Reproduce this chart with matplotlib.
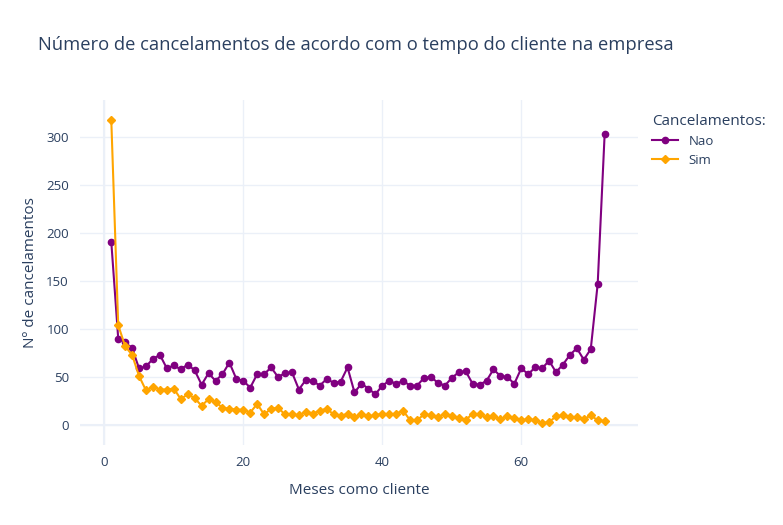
import matplotlib.pyplot as plt

meses = list(range(1, 73))
nao = [191, 90, 86, 80, 59, 61, 69, 73, 59, 62, 58, 63, 57, 42, 54, 46, 53, 65, 48, 46,
       39, 53, 53, 60, 50, 54, 55, 37, 47, 46, 41, 48, 44, 45, 60, 34, 43, 38, 32, 41,
       46, 43, 46, 41, 41, 49, 50, 44, 41, 49, 55, 56, 43, 42, 46, 58, 51, 50, 43, 59,
       53, 60, 59, 67, 55, 63, 73, 80, 68, 79, 147, 303]
sim = [318, 104, 82, 73, 51, 36, 40, 37, 37, 38, 27, 32, 28, 20, 27, 24, 18, 17, 16, 16,
       13, 22, 11, 17, 18, 11, 11, 10, 14, 12, 15, 17, 11, 9, 12, 8, 11, 9, 10, 12,
       11, 12, 15, 5, 5, 11, 10, 8, 12, 9, 7, 5, 12, 11, 8, 9, 6, 9, 7, 5,
       6, 5, 2, 3, 9, 10, 8, 8, 6, 10, 5, 4]
xticks = [0, 20, 40, 60]
yticks = [0, 50, 100, 150, 200, 250, 300]

plt.rcParams['font.family'] = ['Open Sans', 'DejaVu Sans']
txt = '#2a3f5f'
grid = '#ebf0f8'

W, H = 783, 525
fig = plt.figure(figsize=(W / 100, H / 100), dpi=100)
ax = fig.add_axes([80 / W, (H - 445) / H, 558 / W, 345 / H])

ax.plot(meses, nao, color='purple', lw=1.5, marker='o', ms=4.5, label='Nao', zorder=3)
ax.plot(meses, sim, color='orange', lw=1.5, marker='D', ms=4, label='Sim', zorder=3)

ax.set_xlim(-3.5, 76.8)
ax.set_ylim(-20.8, 338.5)
ax.set_xticks(xticks)
ax.set_yticks(yticks)
ax.grid(True, color=grid, lw=1, zorder=0)
ax.axhline(0, color=grid, lw=1.5, zorder=1)
ax.axvline(0, color=grid, lw=1.5, zorder=1)
for s in ax.spines.values():
    s.set_visible(False)
ax.tick_params(length=0, labelsize=9.5, labelcolor=txt, pad=8)
ax.set_xlabel('Meses como cliente', fontsize=11, color=txt, labelpad=10)
ax.set_ylabel('Nº de cancelamentos', fontsize=11, color=txt, labelpad=6)

fig.text(38 / W, 1 - 45 / H, 'Número de cancelamentos de acordo com o tempo do cliente na empresa',
         fontsize=13.2, color=txt, va='center', ha='left')

leg = fig.legend(loc='upper left', bbox_to_anchor=(640 / W, 1 - 102 / H), frameon=False,
                 title='Cancelamentos:', fontsize=9.5, title_fontsize=11,
                 labelcolor=txt, handlelength=2.0, labelspacing=0.45, alignment='left')
leg.get_title().set_color(txt)

fig.savefig('out.png', dpi=100)
